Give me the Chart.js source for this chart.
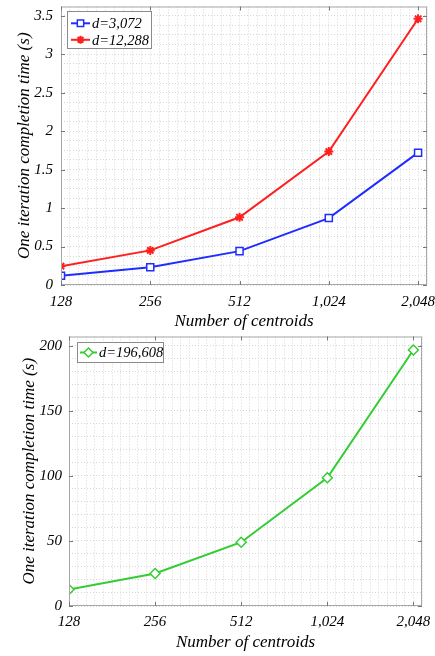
<!DOCTYPE html>
<html><head><meta charset="utf-8">
<script src="https://cdn.jsdelivr.net/npm/chart.js@4/dist/chart.umd.min.js"></script>
<style>
html,body{margin:0;padding:0;background:#fff;}
canvas{position:absolute;left:0;}
</style></head><body>
<canvas id="c1" width="435" height="330" style="top:0px"></canvas>
<canvas id="c2" width="435" height="326" style="top:330px"></canvas>
<script>
// ---- data ----
const centroids = ['128', '256', '512', '1,024', '2,048'];
const timeD3072 = [0.12, 0.23, 0.44, 0.87, 1.72];
const timeD12288 = [0.245, 0.45, 0.88, 1.735, 3.46];
const timeD196608 = [12.7, 25, 49, 98.5, 196.6];
const yTicksTop = [0, 0.5, 1, 1.5, 2, 2.5, 3, 3.5];
const yTicksBottom = [0, 50, 100, 150, 200];
const labelsTop = ['d=3,072', 'd=12,288'];
const labelsBottom = ['d=196,608'];
const xTitle = 'Number of centroids';
const yTitle = 'One iteration completion time (s)';

const FONT = "'Liberation Serif', 'Times New Roman', serif";
const GRID = '#d6d6d6';
const FRAME = '#a6a6a6';

function pts(vals) { return vals.map((v, i) => ({x: i, y: v})); }

const framePlugin = {
  id: 'frame',
  afterDraw(chart, args, opts) {
    const {ctx, chartArea: a, scales} = chart;
    ctx.save();
    ctx.strokeStyle = FRAME;
    ctx.lineWidth = 1;
    ctx.strokeRect(a.left + 0.5, a.top + 0.5, a.right - a.left - 1, a.bottom - a.top - 1);
    // inward major ticks
    ctx.strokeStyle = '#777';
    const L = 4;
    ctx.beginPath();
    centroids.forEach((c, i) => {
      const x = Math.round(scales.x.getPixelForValue(i)) + 0.5;
      ctx.moveTo(x, a.bottom); ctx.lineTo(x, a.bottom - L);
      ctx.moveTo(x, a.top); ctx.lineTo(x, a.top + L);
    });
    opts.yTicks.forEach(v => {
      const y = Math.round(scales.y.getPixelForValue(v)) + 0.5;
      ctx.moveTo(a.left, y); ctx.lineTo(a.left + L, y);
      ctx.moveTo(a.right, y); ctx.lineTo(a.right - L, y);
    });
    ctx.stroke();
    // legend
    const lg = opts.legend;
    ctx.fillStyle = '#fff';
    ctx.fillRect(lg.left, lg.top, lg.width, lg.height);
    ctx.strokeStyle = '#8a8a8a';
    ctx.lineWidth = 1;
    ctx.strokeRect(lg.left + 0.5, lg.top + 0.5, lg.width, lg.height);
    chart.data.datasets.forEach((ds, i) => {
      const y = lg.rows[i];
      ctx.strokeStyle = ds.borderColor;
      ctx.lineWidth = 2;
      ctx.beginPath(); ctx.moveTo(lg.lineX0, y); ctx.lineTo(lg.lineX1, y); ctx.stroke();
      ctx.fillStyle = ds.pointBackgroundColor;
      ctx.lineWidth = ds.pointBorderWidth;
      Chart.helpers.drawPoint(ctx, {pointStyle: ds.pointStyle, radius: ds.pointRadius - 0.5, rotation: 0, borderWidth: ds.pointBorderWidth}, (lg.lineX0 + lg.lineX1) / 2, y);
      ctx.fillStyle = '#000';
      ctx.font = 'italic ' + lg.fontSize + 'px ' + FONT;
      ctx.textBaseline = 'middle';
      ctx.textAlign = 'left';
      ctx.fillText(ds.label, lg.textX, y + 1);
    });
    ctx.restore();
  }
};

function makeOptions(cfg) {
  return {
    responsive: false,
    devicePixelRatio: 1,
    animation: false,
    layout: {padding: cfg.padding},
    plugins: {legend: {display: false}, tooltip: {enabled: false}, frame: {yTicks: cfg.yTicks, legend: cfg.legend}},
    scales: {
      x: {
        type: 'linear', min: 0, max: 4.1,
        afterBuildTicks: s => { const t = []; for (let k = 0; k <= 41; k++) t.push({value: k / 10}); s.ticks = t; },
        afterFit: s => { s.height = cfg.xHeight; s.paddingLeft = 0; s.paddingRight = 0; },
        grid: {color: GRID, drawTicks: false, lineWidth: 1},
        border: {display: false, dash: [1, 2]},
        ticks: {
          autoSkip: false, maxRotation: 0, padding: cfg.xTickPad, color: '#000',
          font: {family: FONT, size: 15, style: 'italic'},
          callback: v => { const k = Math.round(v * 10); return k % 10 === 0 ? centroids[k / 10] : ''; }
        },
        title: {display: true, text: xTitle, color: '#000', font: {family: FONT, size: 17, style: 'italic', lineHeight: 1}, padding: {top: 0, bottom: cfg.xTitlePad}}
      },
      y: {
        type: 'linear', min: 0, max: cfg.yMax,
        afterBuildTicks: s => { const t = []; for (let v = 0; v <= cfg.yTicks[cfg.yTicks.length - 1] + 1e-9; v += cfg.yMinor) t.push({value: Math.round(v * 1000) / 1000}); s.ticks = t; },
        afterFit: s => { s.width = cfg.yWidth; s.paddingTop = 0; s.paddingBottom = 0; },
        grid: {color: GRID, drawTicks: false, lineWidth: 1},
        border: {display: false, dash: [1, 2]},
        ticks: {
          autoSkip: false, padding: cfg.yTickPad, color: '#000',
          font: {family: FONT, size: 15, style: 'italic'},
          callback: v => { const m = cfg.yTicks.find(t => Math.abs(t - v) < 1e-6); return m === undefined ? '' : String(m); }
        },
        title: {display: true, text: yTitle, color: '#000', font: {family: FONT, size: 17, style: 'italic', lineHeight: 1}, padding: {top: cfg.yTitlePad, bottom: 0}}
      }
    }
  };
}

new Chart(document.getElementById('c1'), {
  type: 'line',
  data: {datasets: [
    {label: labelsTop[0], data: pts(timeD3072), borderColor: '#1f2dff', borderWidth: 2, tension: 0,
     pointStyle: 'rect', pointRadius: 5, pointBorderWidth: 1.5, pointBackgroundColor: '#fff', pointBorderColor: '#1f2dff'},
    {label: labelsTop[1], data: pts(timeD12288), borderColor: '#ff1f1f', borderWidth: 2, tension: 0,
     pointStyle: 'star', pointRadius: 4.5, pointBorderWidth: 2, pointBackgroundColor: '#ff1f1f', pointBorderColor: '#ff1f1f'}
  ]},
  options: makeOptions({
    padding: {left: 0, right: 8, top: 4, bottom: 0},
    xHeight: 45, yWidth: 61, yMax: 3.62, yMinor: 0.125, yTicks: yTicksTop,
    xTickPad: 8, yTickPad: 8, xTitlePad: 0, yTitlePad: 16,
    legend: {left: 67, top: 11, width: 84, height: 37, rows: [23.3, 39.8], lineX0: 71, lineX1: 90, textX: 92, fontSize: 14.5}
  }),
  plugins: [framePlugin]
});

new Chart(document.getElementById('c2'), {
  type: 'line',
  data: {datasets: [
    {label: labelsBottom[0], data: pts(timeD196608), borderColor: '#33cc33', borderWidth: 2, tension: 0,
     pointStyle: 'rectRot', pointRadius: 5, pointBorderWidth: 1.5, pointBackgroundColor: '#fff', pointBorderColor: '#33cc33'}
  ]},
  options: makeOptions({
    padding: {left: 0, right: 13, top: 5, bottom: 0},
    xHeight: 50, yWidth: 69, yMax: 207, yMinor: 10, yTicks: yTicksBottom,
    xTickPad: 7, yTickPad: 7, xTitlePad: 5, yTitlePad: 21,
    legend: {left: 77, top: 12, width: 86, height: 20, rows: [22.5], lineX0: 80, lineX1: 97, textX: 99, fontSize: 14.5}
  }),
  plugins: [framePlugin]
});
</script>
</body></html>
